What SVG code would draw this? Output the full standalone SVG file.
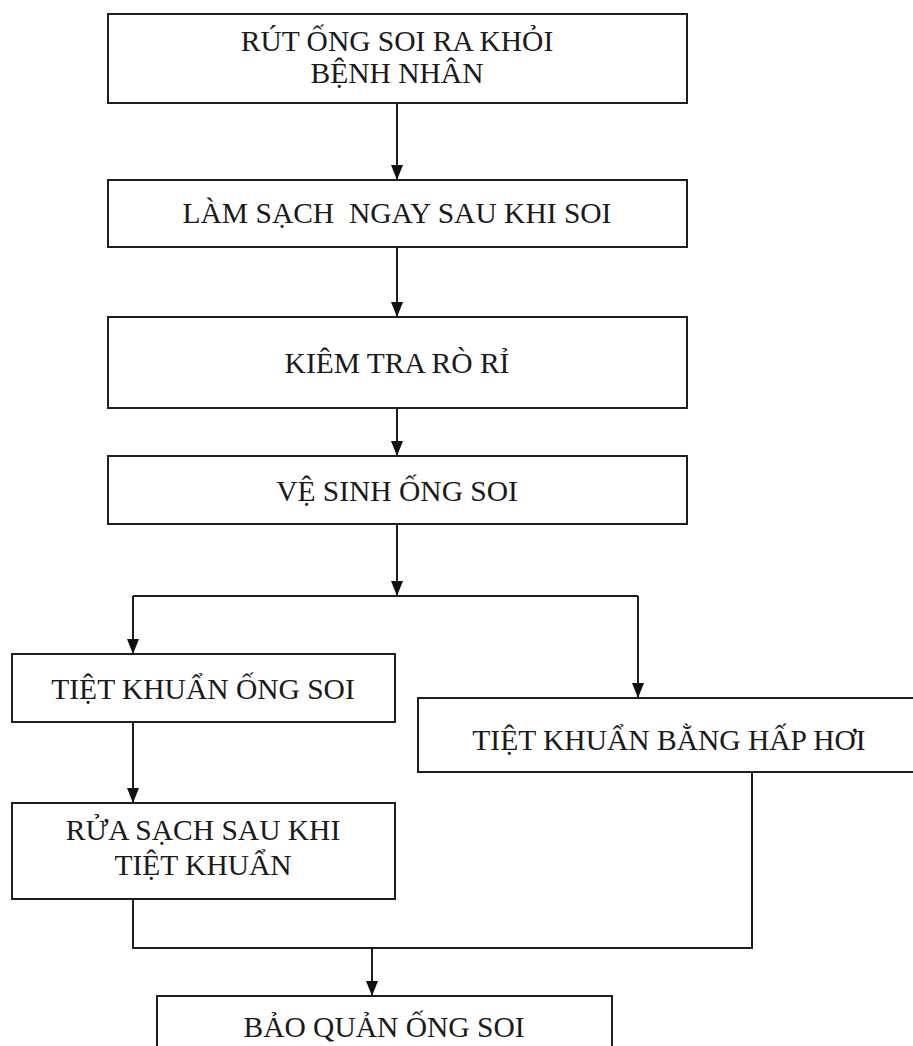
<svg xmlns="http://www.w3.org/2000/svg" width="913" height="1046" viewBox="0 0 913 1046">
  <style>
    .box { fill: #ffffff; stroke: #1e1e1e; stroke-width: 2; }
    .wire { fill: none; stroke: #1e1e1e; stroke-width: 2; }
    .arrow { marker-end: url(#head); }
    .label { font-family: "Liberation Serif", "Times New Roman", serif; font-size: 29.5px; fill: #1a1a1a; text-anchor: middle; }
  </style>
  <defs>
    <!-- solid triangular arrowhead, tip at the end of the path -->
    <marker id="head" markerWidth="15" markerHeight="12" refX="15" refY="6" orient="auto" markerUnits="userSpaceOnUse" viewBox="0 0 15 12">
      <path d="M0,0 L15,6 L0,12 Z" fill="#111111"/>
    </marker>
  </defs>
  <rect width="913" height="1046" fill="#ffffff"/>

  <g id="connectors">
    <path class="wire arrow" d="M397,103 V180"/>
    <path class="wire arrow" d="M397,247 V317"/>
    <path class="wire arrow" d="M397,408 V456"/>
    <path class="wire arrow" d="M397,524 V596"/>
    <path class="wire" d="M133,596 H638"/>
    <path class="wire arrow" d="M133,596 V654"/>
    <path class="wire arrow" d="M638,596 V698"/>
    <path class="wire arrow" d="M133,722 V803"/>
    <path class="wire" d="M133,899 V948 H752 V772"/>
    <path class="wire arrow" d="M372,948 V996"/>
  </g>

  <g id="remove-endoscope">
    <rect class="box" x="108" y="14" width="579" height="89"/>
    <text class="label" x="397" y="51">RÚT ỐNG SOI RA KHỎI</text>
    <text class="label" x="397" y="83">BỆNH NHÂN</text>
  </g>

  <g id="clean-immediately">
    <rect class="box" x="108" y="180" width="579" height="67"/>
    <text class="label" x="397" y="223" xml:space="preserve">LÀM SẠCH  NGAY SAU KHI SOI</text>
  </g>

  <g id="leak-test">
    <rect class="box" x="108" y="317" width="579" height="91"/>
    <text class="label" x="397" y="373">KIÊM TRA RÒ RỈ</text>
  </g>

  <g id="clean-endoscope">
    <rect class="box" x="108" y="456" width="579" height="68"/>
    <text class="label" x="397" y="501">VỆ SINH ỐNG SOI</text>
  </g>

  <g id="disinfect-endoscope">
    <rect class="box" x="12" y="654" width="383" height="68"/>
    <text class="label" x="203" y="699">TIỆT KHUẨN ỐNG SOI</text>
  </g>

  <g id="steam-sterilize">
    <rect class="box" x="418" y="698" width="500" height="74"/>
    <text class="label" x="669" y="750">TIỆT KHUẨN BẰNG HẤP HƠI</text>
  </g>

  <g id="rinse-after-disinfection">
    <rect class="box" x="12" y="803" width="383" height="96"/>
    <text class="label" x="203" y="840">RỬA SẠCH SAU KHI</text>
    <text class="label" x="203" y="875">TIỆT KHUẨN</text>
  </g>

  <g id="storage">
    <rect class="box" x="157" y="996" width="455" height="60"/>
    <text class="label" x="384" y="1037">BẢO QUẢN ỐNG SOI</text>
  </g>
</svg>
